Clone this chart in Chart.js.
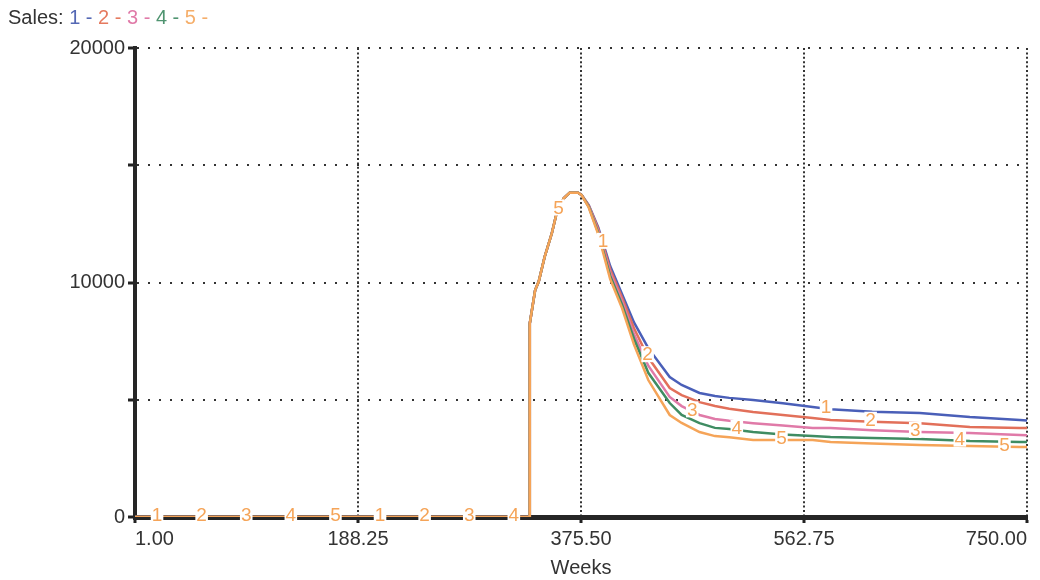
<!DOCTYPE html>
<html>
<head>
<meta charset="utf-8">
<script src="https://cdn.jsdelivr.net/npm/chart.js@4.4.1/dist/chart.umd.min.js"></script>
<style>
  body { margin: 0; background: #fff; }
  #wrap { position: relative; width: 1040px; height: 580px; }
  #legend {
    position: absolute; left: 8px; top: 7px;
    font: 20px/20px "Liberation Sans", Arial, sans-serif; color: #333;
    white-space: pre;
  }
  canvas { position: absolute; left: 0; top: 0; }
</style>
</head>
<body>
<div id="wrap">
  <canvas id="myChart" width="1040" height="580"></canvas>
  <div id="legend">Sales: <span style="color:#5468b4">1 - </span><span style="color:#e57a5f">2 - </span><span style="color:#e07aa8">3 - </span><span style="color:#4f9470">4 - </span><span style="color:#f5ae6a">5 -</span></div>
</div>
<script>
const weeks = [1, 332, 332.5, 337, 340, 345, 351, 355, 361, 366, 373, 376,
  382, 390, 400, 410, 420, 432, 450, 460, 475, 488, 500, 520, 545, 570, 585, 620, 660, 702, 744, 750];

const sales1 = [0, 0, 8260, 9680, 10040, 11100, 12100, 12950, 13590, 13830, 13830, 13730,
  13300, 12350, 10700, 9500, 8300, 7200, 5970, 5630, 5290, 5160, 5080, 4990, 4850, 4690, 4600, 4490, 4430, 4260, 4140, 4120];
const sales2 = [0, 0, 8260, 9680, 10040, 11100, 12100, 12950, 13590, 13830, 13830, 13730,
  13280, 12280, 10560, 9350, 8050, 6800, 5500, 5200, 4900, 4730, 4620, 4480, 4350, 4220, 4140, 4060, 4000, 3840, 3800, 3790];
const sales3 = [0, 0, 8260, 9680, 10040, 11100, 12100, 12950, 13590, 13830, 13830, 13730,
  13250, 12200, 10420, 9200, 7800, 6450, 5120, 4730, 4350, 4180, 4100, 4000, 3900, 3800, 3800, 3700, 3620, 3580, 3500, 3490];
const sales4 = [0, 0, 8260, 9680, 10040, 11100, 12100, 12950, 13590, 13830, 13830, 13730,
  13230, 12120, 10280, 9050, 7600, 6150, 4860, 4350, 4000, 3800, 3750, 3625, 3520, 3450, 3410, 3370, 3330, 3240, 3200, 3200];
const sales5 = [0, 0, 8260, 9680, 10040, 11100, 12100, 12950, 13590, 13830, 13830, 13730,
  13200, 12050, 10150, 8900, 7350, 5840, 4350, 4010, 3625, 3450, 3400, 3280, 3280, 3280, 3200, 3130, 3070, 3030, 2985, 2985];

const xTicks = [1.00, 188.25, 375.50, 562.75, 750.00];
const yTicks = [0, 5000, 10000, 15000, 20000];
const yLabelled = [0, 10000, 20000];

const seriesList = [sales1, sales2, sales3, sales4, sales5];
const colors = ['#4a5fb8', '#e2705a', '#e07aa8', '#3f8c62', '#f5a458'];
const labelColor = '#f5a458';
const FONT = '"Liberation Sans", Arial, sans-serif';

function toPoints(vals) {
  return weeks.map((w, i) => ({x: w, y: vals[i]}));
}

function valueAt(vals, w) {
  for (let i = 1; i < weeks.length; i++) {
    if (w <= weeks[i]) {
      const t = (w - weeks[i-1]) / (weeks[i] - weeks[i-1]);
      return vals[i-1] + t * (vals[i] - vals[i-1]);
    }
  }
  return vals[vals.length - 1];
}

// number markers on the lines, 1..5 repeating
const lineLabels = {
  id: 'lineLabels',
  afterDraw(chart) {
    const {ctx, scales: {x, y}} = chart;
    const start = 19.5, step = 37.45;
    ctx.save();
    ctx.font = '19px ' + FONT;
    ctx.textAlign = 'center';
    ctx.textBaseline = 'middle';
    for (let k = 0; k < 20; k++) {
      const wk = start + k * step;
      const s = k % 5;
      const px = x.getPixelForValue(wk);
      const py = y.getPixelForValue(valueAt(seriesList[s], wk)) - 2;
      const txt = String(s + 1);
      const w = ctx.measureText(txt).width + 2;
      ctx.fillStyle = '#fff';
      ctx.fillRect(px - w / 2, py - 8, w, 16);
      ctx.fillStyle = labelColor;
      ctx.fillText(txt, px, py + 1);
    }
    ctx.restore();
  }
};

const ctx = document.getElementById('myChart').getContext('2d');
const myChart = new Chart(ctx, {
  type: 'line',
  data: {
    datasets: seriesList.map((vals, i) => ({
      label: String(i + 1),
      data: toPoints(vals),
      borderColor: colors[i],
      backgroundColor: colors[i],
      borderWidth: 2.5,
      pointRadius: 0,
      tension: 0,
      fill: false,
      order: 5 - i
    }))
  },
  options: {
    responsive: false,
    animation: false,
    events: [],
    layout: { padding: { top: 48, right: 13, left: 0, bottom: 0 } },
    plugins: { legend: { display: false }, tooltip: { enabled: false } },
    scales: {
      x: {
        type: 'linear',
        min: 1, max: 750,
        z: 1,
        afterBuildTicks: scale => { scale.ticks = xTicks.map(v => ({value: v})); },
        afterFit: scale => { scale.height = 63; },
        ticks: {
          align: 'inner',
          maxRotation: 0,
          padding: 4,
          color: '#333',
          font: { family: FONT, size: 20 },
          callback: v => Number(v).toFixed(2)
        },
        grid: { color: '#333', lineWidth: 2, tickLength: 6, tickColor: '#222', tickWidth: 3 },
        border: { display: true, color: '#262626', width: 5, dash: [2, 2.4] },
        title: { display: true, text: 'Weeks', color: '#333', font: { family: FONT, size: 20 }, padding: { top: 0, bottom: 0 } }
      },
      y: {
        min: 0, max: 20000,
        z: 1,
        afterBuildTicks: scale => { scale.ticks = yTicks.map(v => ({value: v})); },
        afterFit: scale => { scale.width = 135; },
        ticks: {
          padding: 3,
          color: '#333',
          font: { family: FONT, size: 20 },
          callback: v => yLabelled.includes(v) ? String(v) : ''
        },
        grid: { color: '#333', lineWidth: 2, tickLength: 7, tickColor: '#222', tickWidth: 3 },
        border: { display: true, color: '#262626', width: 4, dash: [2, 9] }
      }
    }
  },
  plugins: [lineLabels]
});
</script>
</body>
</html>
